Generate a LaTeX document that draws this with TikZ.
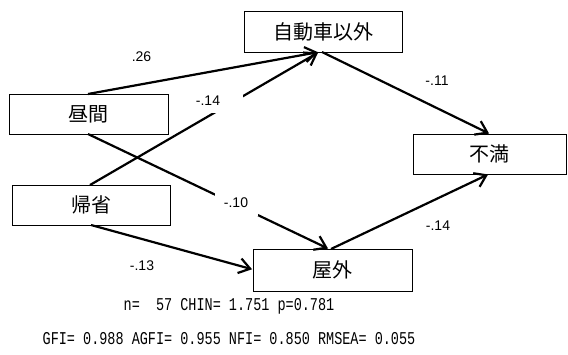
\documentclass[tikz,border=0pt]{standalone}
\usepackage{fontspec}
\setmainfont{Liberation Sans}
\newfontfamily\jpfont{Noto Sans CJK JP}
\newfontfamily\statfont[FakeStretch=0.75]{Liberation Mono}
\usetikzlibrary{arrows.meta}
\begin{document}
\begin{tikzpicture}[x=1pt,y=-1pt,
  box/.style={draw,line width=0.9pt,inner sep=0pt,font=\jpfont\fontsize{20}{21}\selectfont},
  path/.style={line width=2.2pt,-{Straight Barb[length=11pt,width=15pt,line width=2.2pt]},shorten >=1pt},
  coef/.style={font=\fontsize{14}{16}\selectfont,inner sep=0pt},
  stat/.style={font=\statfont\fontsize{18}{20}\selectfont,inner sep=0pt}]
\useasboundingbox (0,0) rectangle (568,354);
% boxes
\node[box,minimum width=158pt,minimum height=41pt] (car) at (323,31.5) {自動車以外};
\node[box,minimum width=159pt,minimum height=40pt] (day) at (88.5,114) {昼間};
\node[box,minimum width=158pt,minimum height=40pt] (home) at (91,205) {帰省};
\node[box,minimum width=153pt,minimum height=40pt] (dis) at (489.5,154) {不満};
\node[box,minimum width=159pt,minimum height=42pt] (out) at (332.5,270) {屋外};
% anchor coordinates
\coordinate (dayT) at (88,94);
\coordinate (dayB) at (88,134);
\coordinate (homeT) at (90,185);
\coordinate (homeB) at (91,225);
\coordinate (carB) at (319,52);
\coordinate (carS) at (322,52);
\coordinate (outT) at (329,249);
\coordinate (outS) at (331,249);
\coordinate (outL) at (253,269.5);
\coordinate (disT) at (490,134);
\coordinate (disB) at (489,174);
% paths
\draw[path] (dayT) -- (carB);
\draw[path] (homeT) -- (carB);
\draw[path] (dayB) -- (outT);
\draw[path] (homeB) -- (outL);
\draw[path] (carS) -- (disT);
\draw[path] (outS) -- (disB);
% label backgrounds that interrupt the lines
\fill[white] (190,90) rectangle (243,112.5);
\fill[white] (215,193) rectangle (258,215.5);
% coefficients
\node[coef] (c1) at (141.5,57) {.26};
\node[coef] (c2) at (208,101) {-.14};
\node[coef] (c3) at (437,81) {-.11};
\node[coef] (c4) at (236,203) {-.10};
\node[coef] (c5) at (438,226) {-.14};
\node[coef] (c6) at (142,266) {-.13};
% statistics
\node[stat] (s1) at (229,306) {n=\ \ 57 CHIN= 1.751 p=0.781};
\node[stat] (s2) at (229,339) {GFI= 0.988 AGFI= 0.955 NFI= 0.850 RMSEA= 0.055};
\end{tikzpicture}
\end{document}
